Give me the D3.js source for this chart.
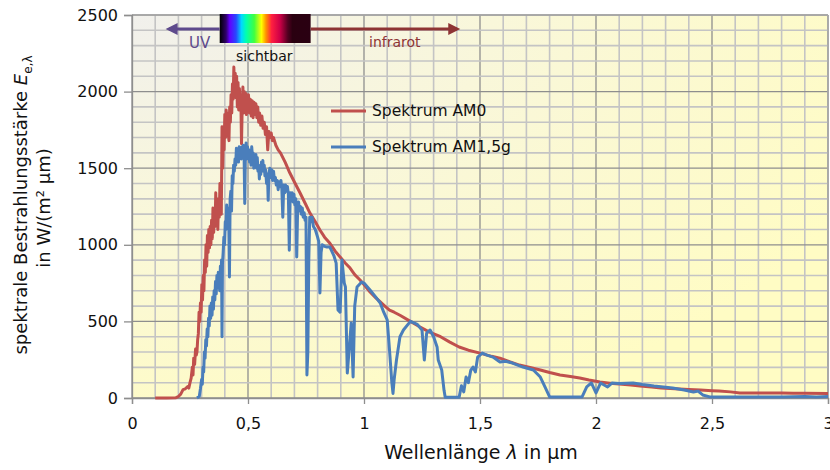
<!DOCTYPE html>
<html><head><meta charset="utf-8">
<script src="https://cdn.jsdelivr.net/npm/d3@7"></script>
<style>body{margin:0;background:#fff}svg{display:block}</style>
</head><body>
<svg id="chart" width="830" height="470"></svg>
<script>
// ---- data ----
const xTicks = [0, 0.5, 1, 1.5, 2, 2.5, 3];
const xTickLabels = ["0", "0,5", "1", "1,5", "2", "2,5", "3"];
const yTicks = [0, 500, 1000, 1500, 2000, 2500];
const seriesNames = ["Spektrum AM0", "Spektrum AM1,5g"];

const am0Lambda = [0.10,0.12,0.15,0.19,0.20,0.21,0.22,0.23,0.24,0.245,0.25,0.255,0.26,0.263,0.266,0.27,0.274,0.277,
 0.280,0.283,0.286,0.289,0.292,0.295,0.298,0.301,0.304,0.307,0.310,0.313,0.316,0.319,0.322,0.325,0.328,0.331,0.334,0.337,0.340,0.343,0.346,0.349,0.352,0.355,0.358,0.361,0.364,0.367,0.370,0.373,0.376,0.379,0.382,0.385,0.388,0.391,0.394,0.397,0.400,0.403,0.406,0.409,0.412,0.415,0.418,0.421,0.424,0.427,0.430,0.433,0.436,0.439,0.442,0.445,0.448,0.451,0.454,0.457,0.460,0.463,0.466,0.469,0.472,0.475,0.478,0.481,0.484,0.487,0.490,0.493,0.496,0.499,0.502,0.506,0.510,0.514,0.518,0.522,0.526,0.530,0.534,0.538,0.542,0.546,0.550,0.555,0.560,0.565,0.570,0.575,0.580,0.585,0.590,0.595,0.600,0.605,0.610,
 0.62,0.63,0.64,0.66,0.68,0.70,0.724,0.75,0.767,0.79,0.81,0.83,0.853,0.875,0.897,0.92,0.94,0.96,0.983,1.0,1.026,1.05,1.07,1.09,1.11,1.13,1.155,1.2,1.24,1.28,1.33,1.37,1.41,1.45,1.5,1.55,1.586,1.63,1.67,1.72,1.76,1.80,1.845,1.89,1.93,1.97,2.017,2.06,2.1,2.15,2.19,2.24,2.28,2.32,2.36,2.4,2.45,2.5,2.53,2.58,2.62,2.7,2.8,2.85,2.9,3.0];
const am0Values = [0,0,0,2,10,25,55,60,75,65,100,130,200,150,260,220,320,280,
 300,380,420,560,500,620,560,740,640,800,700,900,820,1000,860,1060,950,1100,980,1120,1000,1160,1040,1240,1080,1200,1120,1340,1150,1280,1100,1300,1180,1400,1250,1200,1770,1500,1720,1620,1850,1700,1880,1750,1860,1720,1680,1900,1800,1980,1860,2050,1950,2160,2000,2120,1960,2100,1900,2060,1880,2020,1900,1980,1660,1900,2030,1860,2000,1880,1990,1850,1960,1880,1980,1860,1950,1840,1940,1830,1930,1850,1920,1830,1900,1800,1860,1780,1840,1760,1800,1720,1770,1620,1740,1700,1730,1680,1700,
 1650,1620,1600,1540,1470,1410,1340,1260,1207,1150,1097,1050,1010,960,920,880,848,805,770,740,692,655,627,600,574,560,540,500,465,432,400,365,333,312,293,272,260,235,215,198,183,166,150,140,130,117,104,97,91,84,78,71,65,62,59,56,52,48,46,40,33,33,33,31,31,30];

const am15Lambda = [0.280,0.290,0.295,0.300,0.303,0.306,0.309,0.312,0.315,0.318,0.321,0.324,0.327,0.330,0.333,0.336,0.339,0.342,0.345,0.348,0.351,0.354,0.357,0.360,0.363,0.366,0.369,0.372,0.375,0.378,0.381,0.384,0.386,0.388,0.390,0.393,0.396,0.399,0.402,0.405,0.408,0.411,0.414,0.417,0.420,0.423,0.426,0.429,0.432,0.435,0.438,0.441,0.444,0.447,0.450,0.453,0.456,0.459,0.462,0.465,0.468,0.471,0.474,0.477,0.480,0.483,0.486,0.489,0.492,0.495,0.498,0.501,0.504,0.507,0.510,0.513,0.516,0.519,0.522,0.525,0.528,0.531,0.534,0.537,0.540,0.543,0.546,0.549,0.552,0.555,0.558,0.561,0.564,0.567,0.570,0.573,0.576,0.580,0.584,0.587,0.590,0.594,0.598,0.602,0.606,0.610,0.614,0.618,0.622,0.626,0.630,0.634,0.638,0.642,0.646,0.650,0.654,0.658,0.662,0.666,0.670,0.674,0.678,0.682,0.686,0.690,0.694,0.698,0.702,0.706,0.710,0.714,0.718,0.722,0.726,0.730,0.734,0.738,0.742,0.746,0.750,0.754,0.758,0.762,0.766,0.770,0.776,0.782,0.79,0.80,0.805,0.81,0.815,0.82,0.83,0.84,
 0.853,0.87,0.88,0.888,0.897,0.905,0.915,0.92,0.928,0.935,0.945,0.953,0.96,0.97,0.99,1.0,1.026,1.05,1.07,1.085,1.10,1.11,1.12,1.125,1.13,1.14,1.155,1.17,1.2,1.23,1.25,1.26,1.27,1.285,1.30,1.315,1.32,1.335,1.345,1.35,1.41,1.42,1.43,1.44,1.45,1.46,1.47,1.48,1.49,1.51,1.53,1.556,1.586,1.61,1.64,1.685,1.73,1.76,1.78,1.80,1.94,1.96,1.98,2.0,2.02,2.05,2.07,2.1,2.16,2.2,2.25,2.3,2.33,2.38,2.42,2.44,2.46,2.49,2.6,2.8,2.9,2.95,3.0];
const am15Values = [0,10,60,120,90,200,170,300,260,380,340,450,400,520,470,600,520,620,540,660,580,700,640,760,680,800,720,820,760,700,860,820,900,400,880,950,1050,1000,1150,1100,1260,1200,1240,1180,790,1300,1350,1220,1450,1400,1520,1480,1560,1520,1630,1560,1620,1540,1640,1580,1620,1560,1640,1580,1650,1600,1270,1620,1665,1560,1640,1580,1620,1540,1600,1520,1640,1580,1600,1500,1580,1540,1590,1500,1570,1480,1520,1430,1510,1460,1540,1480,1550,1480,1520,1450,1490,1400,1460,1290,1460,1500,1440,1490,1420,1480,1420,1440,1390,1420,1360,1410,1380,1420,1360,1180,1390,1340,1390,1350,1380,1330,965,1340,1300,1340,1280,1330,1260,1300,920,1240,1280,1220,1250,1200,1240,1180,1210,1160,1180,150,300,900,1180,1150,1180,1120,1100,1050,1020,685,950,1000,990,985,
 985,930,880,575,560,900,750,725,163,300,490,137,600,725,757,750,705,660,620,560,510,313,100,30,120,248,400,444,500,480,444,248,424,444,400,333,248,183,50,5,5,80,40,137,100,180,202,170,267,293,280,267,235,240,228,202,183,137,72,7,7,72,98,33,98,72,98,95,98,88,78,70,65,52,39,45,20,7,7,7,10,7,10];

// ---- layout ----
const svg = d3.select("#chart");
const L = 132, R = 828, T = 15, B = 398;
const x = d3.scaleLinear().domain([0, 3]).range([L, R]);
const y = d3.scaleLinear().domain([0, 2500]).range([B, T]);

const defs = svg.append("defs");
const bg = defs.append("radialGradient").attr("id","bg")
  .attr("cx",0).attr("cy",0).attr("r",1.15).attr("fx",0).attr("fy",0);
bg.append("stop").attr("offset",0).attr("stop-color","#f1f0ec");
bg.append("stop").attr("offset",0.45).attr("stop-color","#f9f7da");
bg.append("stop").attr("offset",1).attr("stop-color","#fffcc4");

svg.append("rect").attr("x",L).attr("y",T).attr("width",R-L).attr("height",B-T).attr("fill","url(#bg)");

// grid
const g = svg.append("g");
d3.range(0, 3.0001, 0.1).forEach(v => {
  const major = Math.abs(v*2 - Math.round(v*2)) < 1e-6;
  g.append("line").attr("x1",x(v)).attr("x2",x(v)).attr("y1",T).attr("y2",B)
    .attr("stroke", major ? "#8e8e8e" : "#c4c4c4").attr("stroke-width", major ? 1.3 : 1.6);
});
d3.range(0, 2500.1, 100).forEach(v => {
  const major = v % 500 === 0;
  g.append("line").attr("x1",L).attr("x2",R).attr("y1",y(v)).attr("y2",y(v))
    .attr("stroke", major ? "#8e8e8e" : "#c4c4c4").attr("stroke-width", major ? 1.3 : 1.6);
});
g.append("line").attr("x1",L).attr("x2",R).attr("y1",T).attr("y2",T).attr("stroke","#a8a8a8").attr("stroke-width",1.6);
g.append("line").attr("x1",R).attr("x2",R).attr("y1",T).attr("y2",B).attr("stroke","#a8a8a8").attr("stroke-width",1.6);

// axes
const font = "'DejaVu Sans', Verdana, sans-serif";
const yAxis = svg.append("g").attr("transform",`translate(${L},0)`)
  .call(d3.axisLeft(y).tickValues(yTicks).tickSize(8).tickPadding(6).tickFormat(d3.format("d")));
const xAxis = svg.append("g").attr("transform",`translate(0,${B})`)
  .call(d3.axisBottom(x).tickValues(xTicks).tickSize(6).tickPadding(14).tickFormat((d,i)=>xTickLabels[i]));
[yAxis, xAxis].forEach(a => {
  a.select(".domain").attr("stroke","#8e8e8e").attr("stroke-width",1.3);
  a.selectAll(".tick line").attr("stroke","#8e8e8e").attr("stroke-width",1.3);
  a.selectAll("text").attr("font-family",font).attr("font-size",16).attr("fill","#111");
});

// series
const line = d3.line().x(d=>x(d[0])).y(d=>y(d[1]));
const am0 = am0Lambda.map((l,i)=>[l, am0Values[i]]);
const am15 = am15Lambda.map((l,i)=>[l, am15Values[i]]);
svg.append("path").datum(am0).attr("d",line).attr("fill","none")
  .attr("stroke","#c0504d").attr("stroke-width",3).attr("stroke-linejoin","round");
svg.append("path").datum(am15).attr("d",line).attr("fill","none")
  .attr("stroke","#4a7ebb").attr("stroke-width",3).attr("stroke-linejoin","round");

// legend
const colors = ["#c0504d", "#4a7ebb"];
seriesNames.forEach((n,i) => {
  const ly = 111 + i*36;
  svg.append("line").attr("x1",331).attr("x2",366).attr("y1",ly).attr("y2",ly)
    .attr("stroke",colors[i]).attr("stroke-width",3);
  svg.append("text").attr("x",372).attr("y",ly).attr("dy","0.35em")
    .attr("font-family",font).attr("font-size",15.5).attr("fill","#111").text(n);
});

// spectrum band
const sg = defs.append("linearGradient").attr("id","spec");
[[0,"#000000"],[0.07,"#30006a"],[0.11,"#6000ff"],[0.18,"#2848ff"],[0.24,"#00d8ff"],[0.29,"#00ffb0"],
 [0.38,"#40ff40"],[0.46,"#ffff00"],[0.51,"#ff9000"],[0.57,"#ff2040"],[0.66,"#d00048"],
 [0.75,"#500020"],[0.8,"#2a0010"],[1,"#2a0012"]].forEach(s =>
  sg.append("stop").attr("offset",s[0]).attr("stop-color",s[1]));
svg.append("rect").attr("x",x(0.378)).attr("y",14).attr("width",x(0.77)-x(0.378)).attr("height",29).attr("fill","url(#spec)");

// arrows
const uvC = "#5e4a8c", irC = "#8e3434";
svg.append("line").attr("x1",x(0.378)).attr("x2",x(0.16)).attr("y1",29).attr("y2",29).attr("stroke",uvC).attr("stroke-width",3);
svg.append("path").attr("d",`M${x(0.145)},29 l12,-6 l0,12 z`).attr("fill",uvC);
svg.append("line").attr("x1",x(0.77)).attr("x2",x(1.4)).attr("y1",29).attr("y2",29).attr("stroke",irC).attr("stroke-width",3);
svg.append("path").attr("d",`M${x(1.415)},29 l-12,-6 l0,12 z`).attr("fill",irC);

svg.append("text").attr("x",189).attr("y",48).attr("font-family",font).attr("font-size",15).attr("fill",uvC).text("UV");
svg.append("text").attr("x",369).attr("y",47).attr("font-family",font).attr("font-size",14).attr("fill",irC).text("infrarot");
svg.append("text").attr("x",236).attr("y",61).attr("font-family",font).attr("font-size",14).attr("fill","#111").text("sichtbar");

// axis titles
const xt = svg.append("text").attr("x",481).attr("y",459).attr("text-anchor","middle")
  .attr("font-family",font).attr("font-size",19).attr("fill","#111");
xt.append("tspan").text("Wellenlänge ");
xt.append("tspan").attr("font-style","italic").text("λ");
xt.append("tspan").text(" in µm");

const yt = svg.append("text").attr("transform","translate(27,205) rotate(-90)").attr("text-anchor","middle")
  .attr("font-family",font).attr("font-size",18).attr("fill","#111");
yt.append("tspan").text("spektrale Bestrahlungsstärke ");
yt.append("tspan").attr("font-style","italic").text("E");
yt.append("tspan").attr("font-size",12).attr("dy",5).text("e,λ");
const yt2 = svg.append("text").attr("transform","translate(50,208) rotate(-90)").attr("text-anchor","middle")
  .attr("font-family",font).attr("font-size",18).attr("fill","#111");
yt2.append("tspan").text("in W/(m² µm)");
</script>
</body></html>
